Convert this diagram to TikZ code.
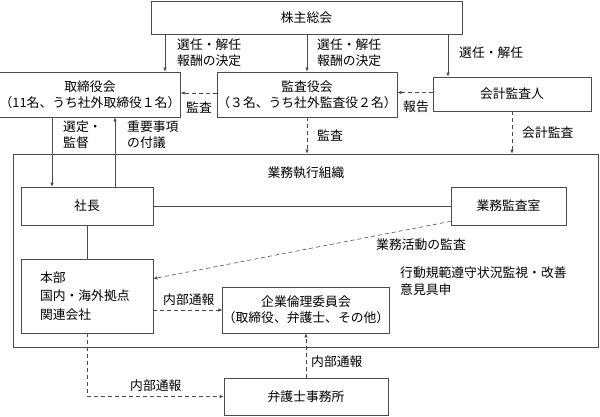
\documentclass[tikz,border=0pt]{standalone}
\usepackage{fontspec}
\setmainfont{Noto Sans CJK JP}
\usepackage{tikz}
\usetikzlibrary{arrows.meta,calc}

\tikzset{
	box/.style={draw=black!70, line width=0.7pt, rectangle, inner sep=0pt, align=center},
	lbl/.style={anchor=west, inner sep=0pt, align=left},
	plain/.style={draw=black!70, line width=0.6pt},
	arr/.style={plain, -{Latex[length=4pt,width=3.5pt]}},
	darr/.style={arr, dash pattern=on 4pt off 3pt}
}

\begin{document}
\begin{tikzpicture}[x=1pt, y=-1pt, font=\fontsize{12.8}{16}\selectfont]
		%%%%% START %%%%%
		\useasboundingbox (0,0) rectangle (600,416);
		
		\node[box, minimum width=311, minimum height=33] (soukai) at (306.5,17.5) {株主総会};
		\node[box, minimum width=178, minimum height=45] (torishimari) at (90,94.5) {取締役会\\（11名、うち社外取締役１名）};
		\node[box, minimum width=180, minimum height=45] (kansayaku) at (307,94.5) {監査役会\\（３名、うち社外監査役２名）};
		\node[box, minimum width=158, minimum height=34] (kaikei) at (512,94) {会計監査人};
		
		\node[box, minimum width=585, minimum height=193] (soshiki) at (305.5,250.5) {};
		\node (soshikimei) at (306,173) {業務執行組織};
		
		\node[box, minimum width=132, minimum height=38] (shachou) at (87,206) {社長};
		\node[box, minimum width=115, minimum height=38] (gyoumu) at (508.5,206) {業務監査室};
		\node[box, minimum height=74, text width=94, inner xsep=19, align=left,
			font=\fontsize{12.8}{18.5}\selectfont] (honbu) at (87,296) {本部\\国内・海外拠点\\関連会社};
		\node[box, minimum width=164, minimum height=46] (rinri) at (306,310) {企業倫理委員会\\（取締役、弁護士、その他）};
		\node[box, minimum width=164, minimum height=37] (bengoshi) at (306,396.5) {弁護士事務所};
		
		% free x positions
		\coordinate (xa) at (165,0);
		\coordinate (xb) at (448,0);
		\coordinate (xc) at (52,0);
		\coordinate (xd) at (115,0);
		
		\draw[arr] (soukai.south -| xa) -- (torishimari.north -| xa);
		\draw[arr] (soukai.south -| kansayaku.north) -- (kansayaku.north);
		\draw[arr] (soukai.south -| xb) -- (kaikei.north -| xb);
		\draw[darr] ($(kansayaku.west)+(0,-1.5)$) -- ($(torishimari.east)+(0,-1.5)$);
		\draw[darr] ($(kaikei.west)+(0,-1.5)$) -- ($(kaikei.west -| kansayaku.east)+(0,-1.5)$);
		\draw[darr] (kansayaku.south) -- (soshiki.north -| kansayaku.south);
		\draw[darr] (kaikei.south) -- (soshiki.north -| kaikei.south);
		
		\draw[arr] (torishimari.south -| xc) -- (shachou.north -| xc);
		\draw[arr] (shachou.north -| xd) -- (torishimari.south -| xd);
		\draw[plain] (shachou.east) -- (gyoumu.west);
		\draw[plain] (shachou.south) -- (honbu.north);
		\draw[darr] ($(gyoumu.south west)+(0,-4)$) -- ($(honbu.north east)+(0,20)$);
		
		\draw[darr] (honbu.east |- rinri.west) -- (rinri.west);
		\draw[darr] (honbu.south) |- (bengoshi.west);
		\draw[darr] (bengoshi.north) -- (rinri.south);
		
		\node[lbl] (l1) at (177,53) {選任・解任\\報酬の決定};
		\node[lbl] (l2) at (317,53) {選任・解任\\報酬の決定};
		\node[lbl] (l3) at (459,53) {選任・解任};
		\node[lbl] (l4) at (186,107) {監査};
		\node[lbl] (l5) at (403,107) {報告};
		\node[lbl] (l6) at (317,135) {監査};
		\node[lbl] (l7) at (522,133) {会計監査};
		\node[lbl] (l8) at (63,134.5) {選定・\\監督};
		\node[lbl] (l9) at (127,134.5) {重要事項\\の付議};
		\node[lbl] (l10) at (376,245) {業務活動の監査};
		\node[lbl, font=\fontsize{12.8}{17}\selectfont] (l11) at (400,281.5) {行動規範遵守状況監視・改善\\意見具申};
		\node[lbl] (l12) at (163,300) {内部通報};
		\node[lbl] (l13) at (130,386) {内部通報};
		\node[lbl] (l14) at (311,362) {内部通報};
		
		%%%%% END %%%%%
	\end{tikzpicture}
\end{document}
